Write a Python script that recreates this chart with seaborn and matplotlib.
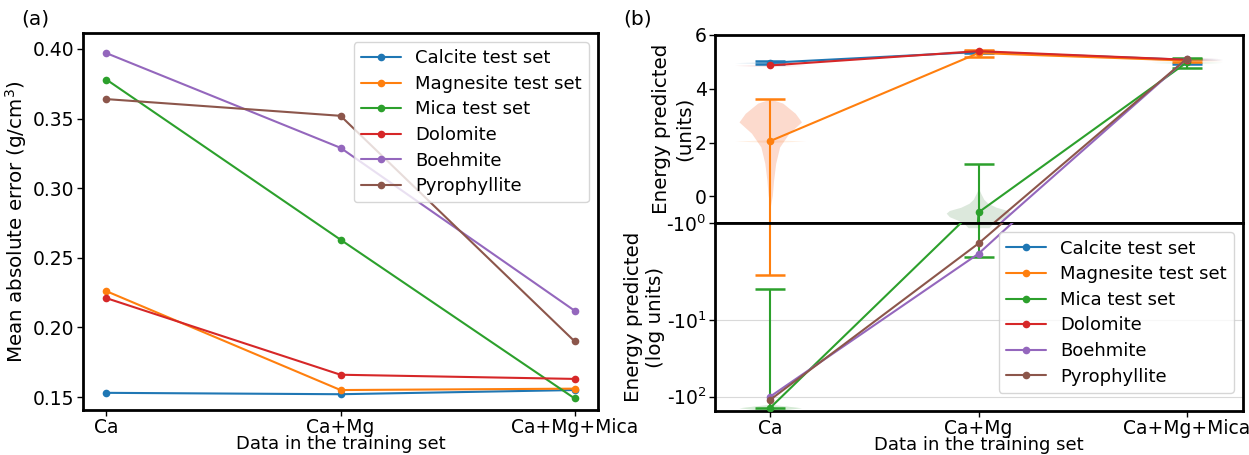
import numpy as np
import pandas as pd
import matplotlib
matplotlib.use("Agg")
import matplotlib.pyplot as plt
from matplotlib.lines import Line2D
from matplotlib.ticker import FixedLocator, FixedFormatter, NullLocator
import seaborn as sns

# ---------------- data ----------------
categories = ["Ca", "Ca+Mg", "Ca+Mg+Mica"]
series = ["Calcite test set", "Magnesite test set", "Mica test set",
          "Dolomite", "Boehmite", "Pyrophyllite"]
colors = ["#1f77b4", "#ff7f0e", "#2ca02c", "#d62728", "#9467bd", "#8c564b"]

# (a) mean absolute error (g/cm^3)
mae_calcite = [0.153, 0.152, 0.155]
mae_magnesite = [0.226, 0.155, 0.156]
mae_mica = [0.378, 0.263, 0.149]
mae_dolomite = [0.221, 0.166, 0.163]
mae_boehmite = [0.397, 0.329, 0.212]
mae_pyrophyllite = [0.364, 0.352, 0.190]
mae_ticks = [0.15, 0.20, 0.25, 0.30, 0.35, 0.40]
mae_tick_labels = ["0.15", "0.20", "0.25", "0.30", "0.35", "0.40"]

# (b) energy predicted (central values)
energy_calcite = [4.97, 5.37, 5.08]
energy_magnesite = [2.06, 5.33, 5.05]
energy_mica = [-140.0, -0.59, 4.98]
energy_dolomite = [4.87, 5.40, 5.08]
energy_boehmite = [-100.0, -1.71, 5.12]
energy_pyrophyllite = [-110.0, -1.47, 5.12]
top_ticks = [0, 2, 4, 6]
log_ticks = [-100, -10, -1]
log_tick_labels = ["-10$^{2}$", "-10$^{1}$", "-10$^{0}$"]

# (b) error bar lower / upper ends (None = no visible error bar)
low_calcite = [4.93, 5.33, 4.93]
high_calcite = [5.02, 5.42, 5.10]
low_magnesite = [-2.6, 5.20, 5.00]
high_magnesite = [3.62, 5.45, 5.10]
low_mica = [-143.0, -1.79, 4.78]
high_mica = [-4.0, 1.22, 5.15]
low_dolomite = [None, None, None]
high_dolomite = [None, None, None]
low_boehmite = [None, None, None]
high_boehmite = [None, None, None]
low_pyrophyllite = [None, None, None]
high_pyrophyllite = [None, None, None]

# (b) violin outlines (value, half width in category units)
violin_mag_ca_y = [3.62, 3.47, 3.09, 2.77, 2.35, 1.84, 1.23, 0.60, 0.04, -0.4]
violin_mag_ca_w = [0.0, 0.06, 0.12, 0.15, 0.09, 0.045, 0.026, 0.016, 0.01, 0.0]
violin_mica_camg_y = [0.30, 0.10, -0.10, -0.25, -0.40, -0.52, -0.62, -0.75, -0.88, -1.0, -1.1]
violin_mica_camg_w = [0.0, 0.012, 0.025, 0.045, 0.085, 0.14, 0.155, 0.14, 0.10, 0.07, 0.05]
violin_mica_ca_y = [-126.0, -133.0, -140.0, -147.0, -153.0]
violin_mica_ca_w = [0.0, 0.08, 0.15, 0.08, 0.0]
flat_violin_dy = [-0.05, 0.0, 0.05]
flat_violin_w = [0.0, 0.17, 0.0]

mae = [mae_calcite, mae_magnesite, mae_mica, mae_dolomite, mae_boehmite, mae_pyrophyllite]
energy = [energy_calcite, energy_magnesite, energy_mica, energy_dolomite,
          energy_boehmite, energy_pyrophyllite]
lows = [low_calcite, low_magnesite, low_mica, low_dolomite, low_boehmite, low_pyrophyllite]
highs = [high_calcite, high_magnesite, high_mica, high_dolomite, high_boehmite, high_pyrophyllite]

x_pos = np.arange(len(categories))

# ---------------- style ----------------
sns.set_style("ticks")
plt.rcParams["font.family"] = ["DejaVu Sans"]
plt.rcParams["axes.labelcolor"] = "black"
plt.rcParams["text.color"] = "black"
plt.rcParams["axes.unicode_minus"] = False
TFS = 13.5   # tick labels
XLS = 13     # x labels
YLS = 14.3   # y labels
LFS = 13     # legend

fig = plt.figure(figsize=(12.49, 4.55), dpi=100)
ax_a = fig.add_axes([0.0665, 0.0990, 0.4123, 0.8285])
ax_top = fig.add_axes([0.5725, 0.5090, 0.4227, 0.4141])
ax_bot = fig.add_axes([0.5725, 0.0968, 0.4227, 0.4122], sharex=ax_top)

# ---------------- panel (a) ----------------
df_a = pd.DataFrame({
    "pos": np.tile(x_pos, len(series)),
    "mae": np.concatenate(mae),
    "series": np.repeat(series, len(categories)),
})
sns.lineplot(data=df_a, x="pos", y="mae", hue="series", hue_order=series,
             palette=colors, marker="o", markersize=5.5, markeredgewidth=0,
             linewidth=1.5, errorbar=None, legend=False, ax=ax_a)
ax_a.set_xlim(-0.1, 2.1)
ax_a.set_ylim(0.1407, 0.4115)
ax_a.set_xticks(x_pos)
ax_a.set_xticklabels(categories)
ax_a.set_yticks(mae_ticks)
ax_a.set_yticklabels(mae_tick_labels)
ax_a.set_xlabel("Data in the training set", fontsize=XLS, labelpad=-1)
ax_a.set_ylabel("Mean absolute error (g/cm$^3$)", fontsize=YLS, labelpad=3)
handles = [Line2D([], [], color=c, marker="o", ms=5.5, mew=0, lw=1.5) for c in colors]
ax_a.legend(handles, series, loc="upper right", fontsize=LFS, labelspacing=0.42,
            handlelength=2.2)

# ---------------- panel (b) ----------------
for ax in (ax_top, ax_bot):
    # violins
    ax.fill_betweenx(violin_mag_ca_y, x_pos[0] - np.array(violin_mag_ca_w),
                     x_pos[0] + np.array(violin_mag_ca_w),
                     color="#fcdacd", lw=0, zorder=0.5)
    ax.fill_betweenx(violin_mica_camg_y, x_pos[1] - np.array(violin_mica_camg_w),
                     x_pos[1] + np.array(violin_mica_camg_w),
                     color="#dce8dc", lw=0, zorder=0.5)
    ax.fill_betweenx(violin_mica_ca_y, x_pos[0] - np.array(violin_mica_ca_w),
                     x_pos[0] + np.array(violin_mica_ca_w),
                     color="#d5ead5", lw=0, zorder=0.5)
    for vals, c in zip(energy, colors):
        for xi, v in zip(x_pos, vals):
            if v > 0:
                ax.fill_betweenx(v + np.array(flat_violin_dy),
                                 xi - np.array(flat_violin_w),
                                 xi + np.array(flat_violin_w),
                                 color=c, alpha=0.12, lw=0, zorder=0.5)
    # error bars + lines
    for name, vals, lo, hi, c in zip(series, energy, lows, highs, colors):
        vals_a = np.array(vals, dtype=float)
        lo_a = np.array([np.nan if v is None else v for v in lo], dtype=float)
        hi_a = np.array([np.nan if v is None else v for v in hi], dtype=float)
        ok = np.isfinite(lo_a) & np.isfinite(hi_a)
        if ok.any():
            yerr = [vals_a[ok] - lo_a[ok], hi_a[ok] - vals_a[ok]]
            ax.errorbar(x_pos[ok], vals_a[ok], yerr=yerr, fmt="none", ecolor=c,
                        elinewidth=1.5, capsize=11, capthick=1.8, zorder=2)
        sns.lineplot(x=x_pos, y=vals_a, color=c, marker="o", markersize=5.5,
                     markeredgewidth=0, linewidth=1.5, label=name,
                     legend=False, ax=ax, zorder=3)

ax_top.set_xlim(-0.265, 2.27)
ax_top.set_ylim(-1, 6)
ax_top.set_yticks(top_ticks)
ax_top.tick_params(axis="x", labelbottom=False)
ax_top.set_ylabel("Energy predicted\n(units)", fontsize=YLS, labelpad=1)
ax_top.set_xlabel("")

ax_bot.set_yscale("symlog", linthresh=2)
ax_bot.set_ylim(-154, -1)
ax_bot.yaxis.set_major_locator(FixedLocator(log_ticks))
ax_bot.yaxis.set_major_formatter(FixedFormatter(log_tick_labels))
ax_bot.yaxis.set_minor_locator(NullLocator())
ax_bot.yaxis.grid(True, color="#d9d9d9", lw=0.8)
ax_bot.set_axisbelow(True)
ax_bot.set_xticks(x_pos)
ax_bot.set_xticklabels(categories)
ax_bot.set_xlabel("Data in the training set", fontsize=XLS, labelpad=-1)
ax_bot.set_ylabel("Energy predicted\n(log units)", fontsize=YLS, labelpad=1)
ax_bot.legend(handles, series, loc="upper right", fontsize=LFS, labelspacing=0.42,
              handlelength=2.2)

for ax in (ax_a, ax_top, ax_bot):
    for sp in ax.spines.values():
        sp.set_visible(True)
        sp.set_color("black")
        sp.set_linewidth(2)
    ax.tick_params(labelsize=TFS, colors="black", width=1, length=4, pad=2)
for ax in (ax_a, ax_bot):
    ax.tick_params(axis="x", pad=1.5)

fig.text(0.017, 0.958, "(a)", fontsize=14.5, va="center")
fig.text(0.499, 0.958, "(b)", fontsize=14.5, va="center")

fig.savefig("out.png", dpi=100)
